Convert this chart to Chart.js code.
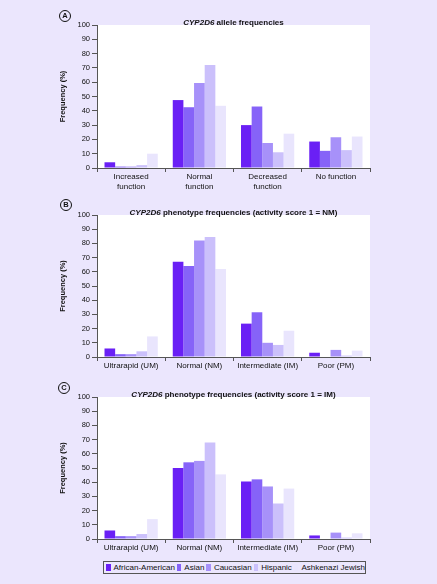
<!DOCTYPE html>
<html>
<head>
<meta charset="utf-8">
<script src="https://cdn.jsdelivr.net/npm/chart.js@4"></script>
<style>
  body { margin: 0; background: #ebe6fd; font-family: "Liberation Sans", Arial, sans-serif; }
  #wrap { position: relative; width: 437px; height: 584px; overflow: hidden; }
  canvas { position: absolute; left: 0; }
  .tag { position: absolute; width: 10px; height: 10px; border: 1px solid #111; border-radius: 50%;
         font-size: 7.5px; font-weight: bold; line-height: 10px; text-align: center; color: #111; }
  #legend { position: absolute; left: 103px; top: 561px; width: 261px; height: 11px; border: 1px solid #555;
            display: flex; align-items: center; font-size: 8px; color: #111; white-space: nowrap; }
  #legend span.sw { display: inline-block; width: 5px; height: 7px; margin: 0 3px 0 2px; }
</style>
</head>
<body>
<div id="wrap">
  <canvas id="chartA" width="437" height="190" style="top:0px"></canvas>
  <canvas id="chartB" width="437" height="185" style="top:190px"></canvas>
  <canvas id="chartC" width="437" height="180" style="top:375px"></canvas>
  <div class="tag" style="left:59px;top:10px">A</div>
  <div class="tag" style="left:60px;top:199px">B</div>
  <div class="tag" style="left:58px;top:382px">C</div>
  <div id="legend"></div>
</div>
<script>
// populations (series) and their colours
const populations = ['African-American', 'Asian', 'Caucasian', 'Hispanic', 'Ashkenazi Jewish'];
const popColors = ['#6a20f5', '#8663f8', '#a791f9', '#cbc0fb', '#e9e5fd'];

// categories
const alleleCats = [['Increased', 'function'], ['Normal', 'function'], ['Decreased', 'function'], 'No function'];
const phenoCats = ['Ultrarapid (UM)', 'Normal (NM)', 'Intermediate (IM)', 'Poor (PM)'];

// A: allele frequencies (%)
const alleleAfrAm = [4, 47.5, 30, 18.5];
const alleleAsian = [1, 42.5, 43, 12];
const alleleCauc = [1, 59.5, 17.5, 21.5];
const alleleHisp = [2, 72, 11, 12.5];
const alleleAJ = [10, 43.5, 24, 22];

// B: phenotype frequencies, activity score 1 = NM (%)
const nmAfrAm = [6, 67, 23.5, 3];
const nmAsian = [2, 64, 31.5, 0];
const nmCauc = [2, 82, 10, 5];
const nmHisp = [4, 84.5, 8.5, 1];
const nmAJ = [14.5, 62, 18.5, 4.5];

// C: phenotype frequencies, activity score 1 = IM (%)
const imAfrAm = [6, 50, 40.5, 2.5];
const imAsian = [2, 54, 42, 0];
const imCauc = [2, 55, 37, 4.5];
const imHisp = [3.5, 68, 25, 1];
const imAJ = [14, 45.5, 35.5, 4];

const yTicks = [0, 10, 20, 30, 40, 50, 60, 70, 80, 90, 100];

const FONT = '"Liberation Sans", Arial, sans-serif';

// white plot area + mixed italic/bold title
const panelDecor = {
  id: 'panelDecor',
  beforeDraw(chart) {
    const a = chart.chartArea, ctx = chart.ctx;
    ctx.save();
    ctx.fillStyle = '#ffffff';
    ctx.fillRect(a.left, a.top, a.right - a.left, a.bottom - a.top);
    ctx.restore();
  },
  afterDraw(chart, args, opts) {
    const a = chart.chartArea, ctx = chart.ctx;
    ctx.save();
    ctx.fillStyle = '#111';
    ctx.textBaseline = 'middle';
    ctx.font = 'italic bold 8px ' + FONT;
    const w1 = ctx.measureText(opts.italic).width;
    ctx.font = 'bold 8px ' + FONT;
    const w2 = ctx.measureText(opts.rest).width;
    let x = (a.left + a.right) / 2 - (w1 + w2) / 2;
    const y = a.top - 2;
    ctx.font = 'italic bold 8px ' + FONT;
    ctx.fillText(opts.italic, x, y);
    ctx.font = 'bold 8px ' + FONT;
    ctx.fillText(opts.rest, x + w1, y);
    ctx.restore();
  }
};

function makeChart(id, labels, values, titleRest, padTop, zeroY) {
  const canvas = document.getElementById(id);
  const h = canvas.height;
  return new Chart(canvas, {
    type: 'bar',
    data: {
      labels: labels,
      datasets: populations.map((p, i) => ({
        label: p,
        data: values[i],
        backgroundColor: popColors[i],
        borderWidth: 0,
        barPercentage: 1,
        categoryPercentage: 0.78
      }))
    },
    options: {
      responsive: false,
      animation: false,
      layout: { padding: { left: 58, right: 67, top: padTop, bottom: 0 } },
      plugins: {
        legend: { display: false },
        tooltip: { enabled: false },
        panelDecor: { italic: 'CYP2D6', rest: titleRest }
      },
      scales: {
        x: {
          afterFit(scale) { scale.height = h - zeroY; },
          grid: { display: true, drawOnChartArea: false, offset: true, tickLength: 4, color: '#555' },
          border: { color: '#555', width: 1 },
          ticks: { padding: 0, color: '#111', font: { family: FONT, size: 8 }, maxRotation: 0, autoSkip: false }
        },
        y: {
          min: 0,
          max: 100,
          afterFit(scale) { scale.width = 97 - 58; },
          afterBuildTicks(scale) { scale.ticks = yTicks.map(v => ({ value: v })); },
          grid: { display: true, drawOnChartArea: false, tickLength: 5, color: '#555' },
          border: { color: '#555', width: 1 },
          ticks: { padding: 2, color: '#111', font: { family: FONT, size: 7.5 } },
          title: { display: true, text: 'Frequency (%)', padding: 0, color: '#111',
                   font: { family: FONT, size: 7.5, weight: 'bold' } }
        }
      }
    },
    plugins: [panelDecor]
  });
}

makeChart('chartA', alleleCats, [alleleAfrAm, alleleAsian, alleleCauc, alleleHisp, alleleAJ],
  ' allele frequencies', 25, 168);
makeChart('chartB', phenoCats, [nmAfrAm, nmAsian, nmCauc, nmHisp, nmAJ],
  ' phenotype frequencies (activity score 1 = NM)', 25, 167);
makeChart('chartC', phenoCats, [imAfrAm, imAsian, imCauc, imHisp, imAJ],
  ' phenotype frequencies (activity score 1 = IM)', 22, 164);

// legend
const legend = document.getElementById('legend');
populations.forEach((p, i) => {
  const sw = document.createElement('span');
  sw.className = 'sw';
  sw.style.background = popColors[i];
  legend.appendChild(sw);
  const t = document.createElement('span');
  t.textContent = p;
  legend.appendChild(t);
});
</script>
</body>
</html>
